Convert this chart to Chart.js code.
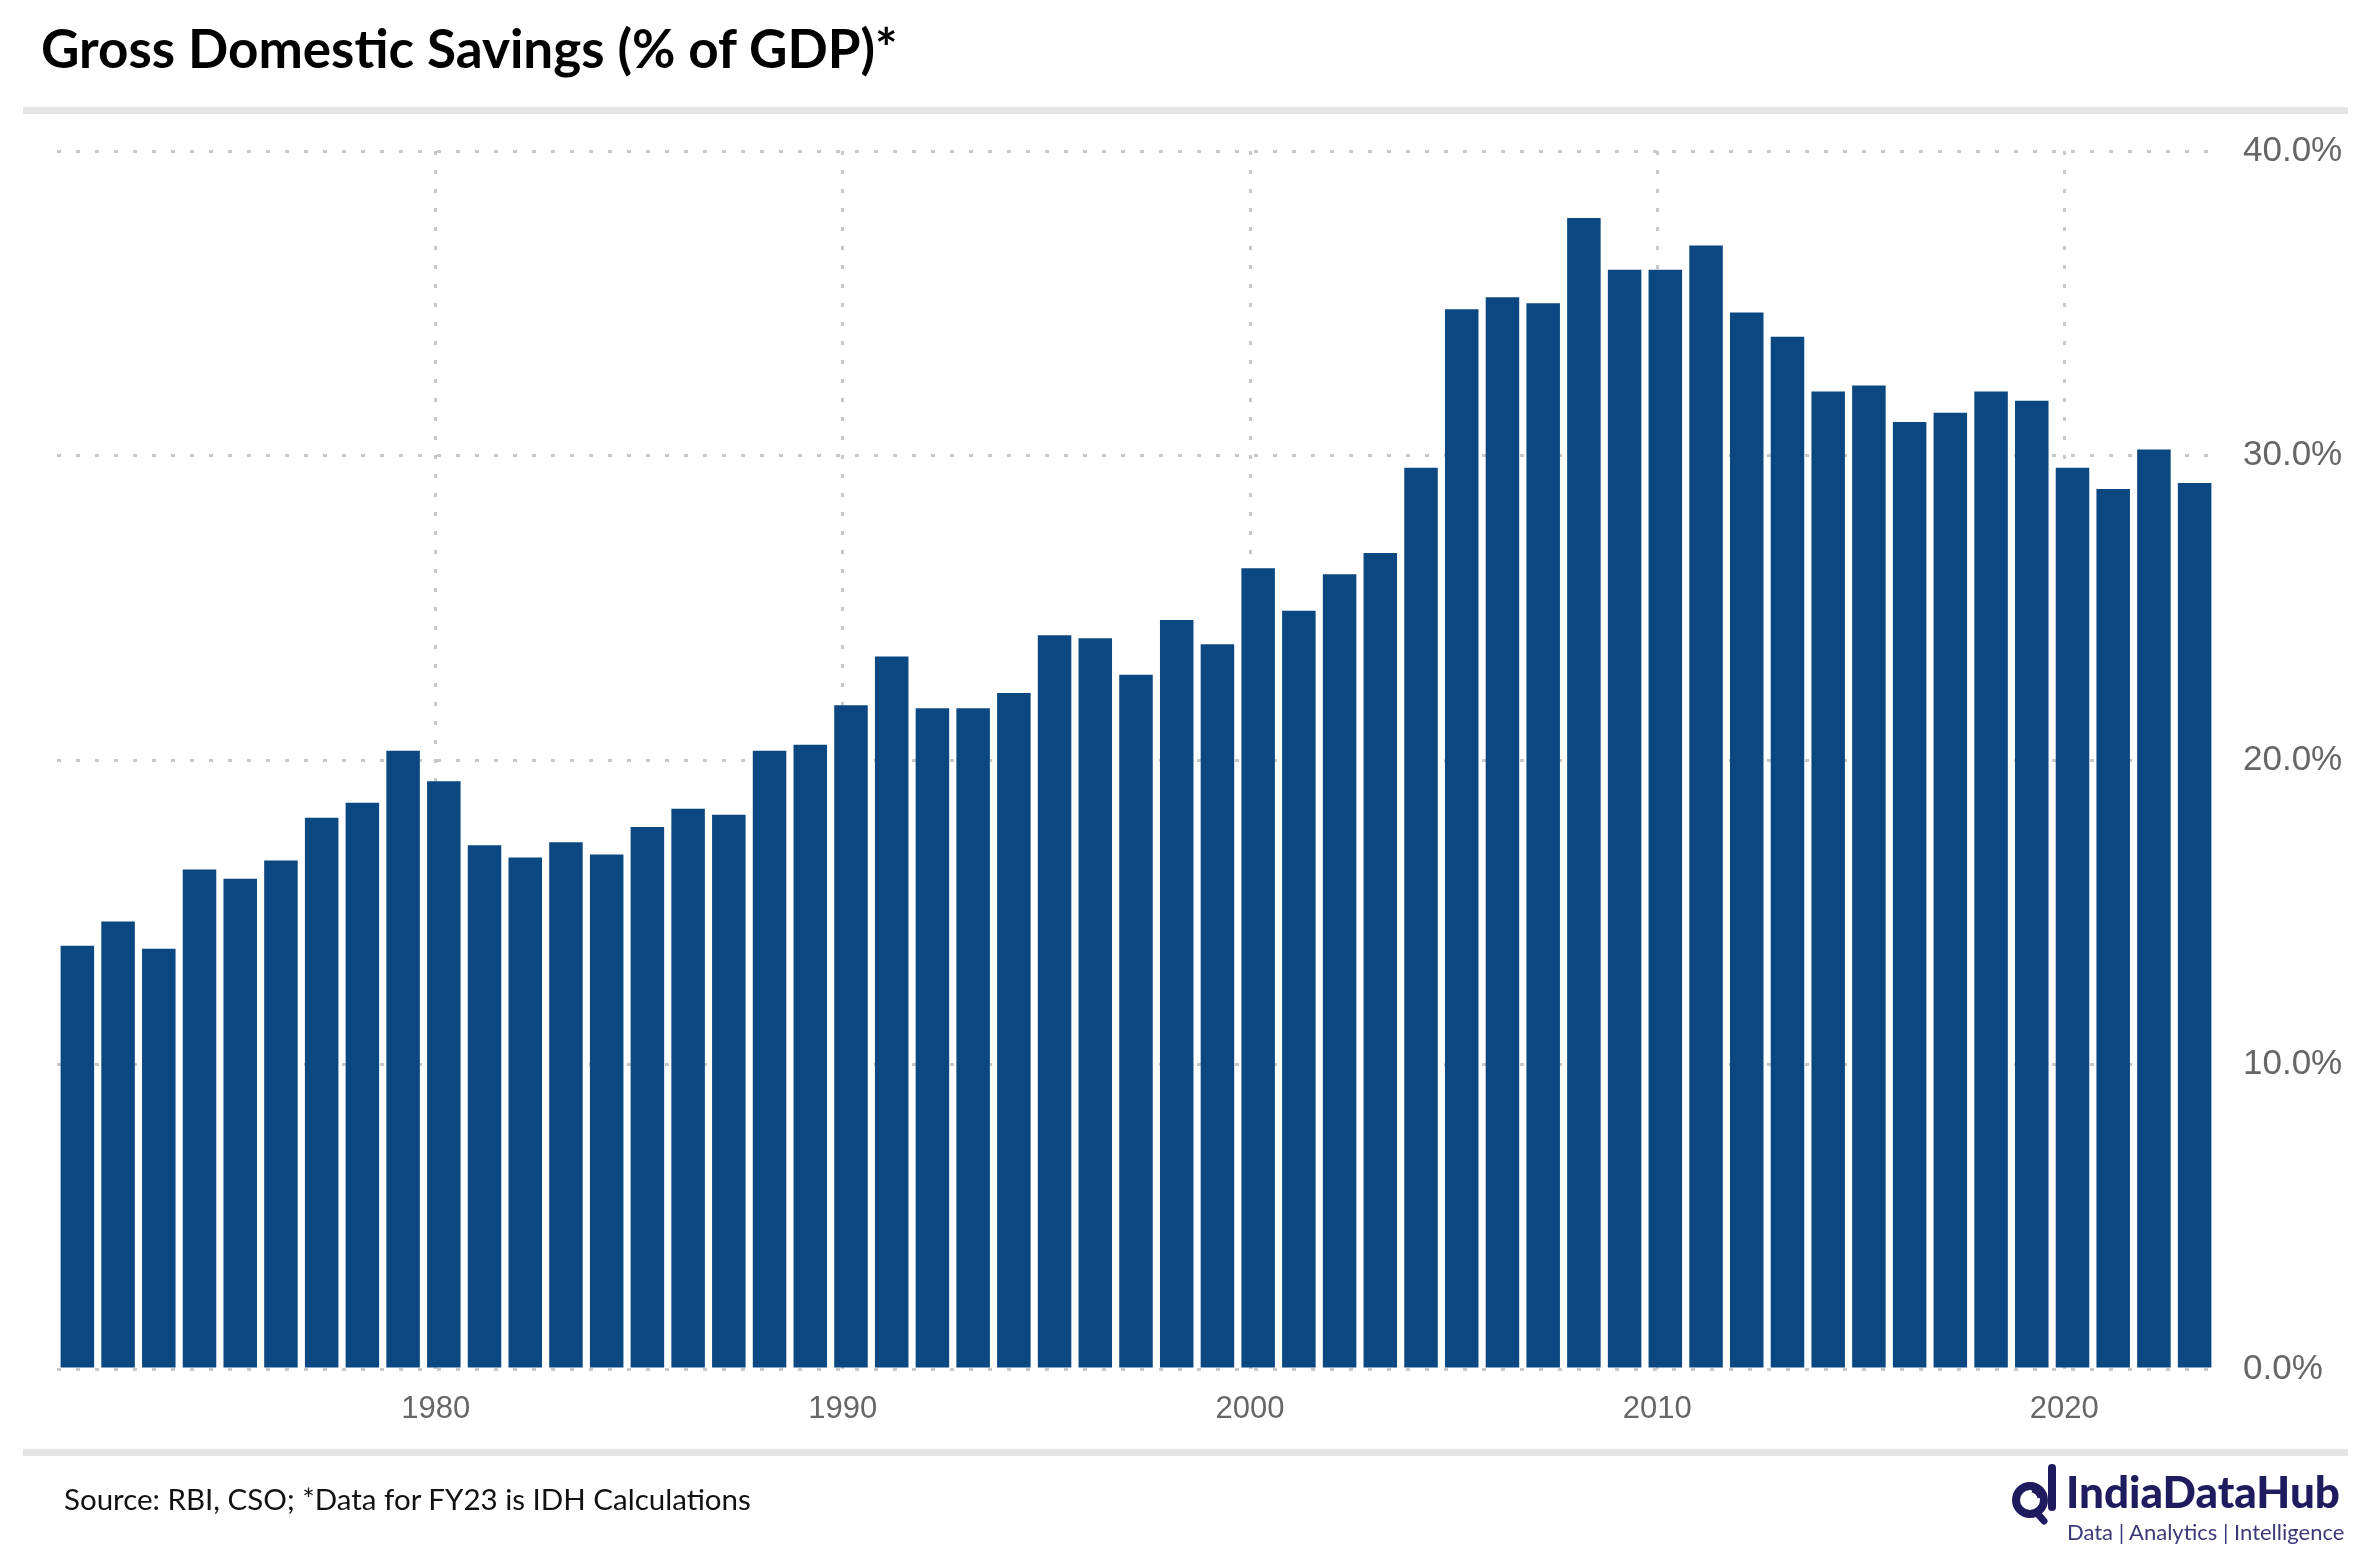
<!DOCTYPE html>
<html>
<head>
<meta charset="utf-8">
<script src="https://cdn.jsdelivr.net/npm/chart.js@4"></script>
<style>
  html, body { margin:0; padding:0; background:#ffffff; }
  body { width:2370px; height:1564px; position:relative; overflow:hidden; }
  #c { position:absolute; left:0; top:0; width:2370px; height:1564px; }
  .title { position:absolute; left:41px; top:13px; font-family:"Lato", sans-serif; font-weight:700; font-size:53px; line-height:70px; color:#000; white-space:nowrap; }
  .rule { position:absolute; left:23px; width:2325px; height:7px; background:#e5e5e5; }
  .source { position:absolute; left:64px; top:1479px; font-family:"Lato", sans-serif; font-size:29.5px; line-height:40px; color:#111; white-space:nowrap; }
  .logo-name { position:absolute; left:2066px; top:1468px; font-family:"Lato", sans-serif; font-weight:900; font-size:44px; line-height:46px; color:#1e1b5e; white-space:nowrap; }
  .logo-sub { position:absolute; left:2067px; top:1518px; font-family:"Lato", sans-serif; font-size:22px; line-height:28px; color:#3b3a78; white-space:nowrap; }
  .logo-icon { position:absolute; left:2006px; top:1460px; }
</style>
</head>
<body>
<canvas id="c" width="2370" height="1564"></canvas>
<div class="title">Gross Domestic Savings (% of GDP)*</div>
<div class="rule" style="top:107px"></div>
<div class="rule" style="top:1449px"></div>
<div class="source">Source: RBI, CSO; *Data for FY23 is IDH Calculations</div>
<svg class="logo-icon" width="60" height="70" viewBox="0 0 60 70">
  <circle cx="24" cy="40" r="14" fill="none" stroke="#1e1b5e" stroke-width="8"/>
  <line x1="46" y1="8" x2="46" y2="47" stroke="#1e1b5e" stroke-width="8" stroke-linecap="round"/>
  <line x1="31" y1="53" x2="38" y2="61" stroke="#1e1b5e" stroke-width="7" stroke-linecap="round"/>
  <path d="M26 31 A9 9 0 0 1 33 38" fill="none" stroke="#1e1b5e" stroke-width="3"/>
</svg>
<div class="logo-name">IndiaDataHub</div>
<div class="logo-sub">Data | Analytics | Intelligence</div>
<script>
const years = [1971,1972,1973,1974,1975,1976,1977,1978,1979,1980,
  1981,1982,1983,1984,1985,1986,1987,1988,1989,1990,
  1991,1992,1993,1994,1995,1996,1997,1998,1999,2000,
  2001,2002,2003,2004,2005,2006,2007,2008,2009,2010,
  2011,2012,2013,2014,2015,2016,2017,2018,2019,2020,
  2021,2022,2023];
const savingsPct = [13.9,14.7,13.8,16.4,16.1,16.7,18.1,18.6,20.3,19.3,
  17.2,16.8,17.3,16.9,17.8,18.4,18.2,20.3,20.5,21.8,
  23.4,21.7,21.7,22.2,24.1,24.0,22.8,24.6,23.8,26.3,
  24.9,26.1,26.8,29.6,34.8,35.2,35.0,37.8,36.1,36.1,
  36.9,34.7,33.9,32.1,32.3,31.1,31.4,32.1,31.8,29.6,
  28.9,30.2,29.1];
const yTicks = [0,10,20,30,40];
const xTickYears = [1980,1990,2000,2010,2020];
// fiscal years end in March: each bar sits ~0.2 year after its calendar-year gridline
const fiscalShift = 0.2;
const xMin = years[0] - 0.5 + fiscalShift;
const xMax = xMin + years.length;

const gridColor = '#c8c8c8';
new Chart(document.getElementById('c'), {
  type: 'bar',
  data: {
    labels: years.map(String),
    datasets: [{
      data: savingsPct,
      xAxisID: 'x',
      backgroundColor: '#0B4881',
      borderWidth: 0,
      barPercentage: 0.823,
      categoryPercentage: 1.0
    }]
  },
  options: {
    responsive: false,
    devicePixelRatio: 1,
    animation: false,
    layout: { padding: { top: 151, left: 57, right: 0, bottom: 115 } },
    plugins: { legend: { display: false }, tooltip: { enabled: false } },
    scales: {
      x: {
        display: false,
        offset: true
      },
      yearAxis: {
        type: 'linear',
        axis: 'x',
        position: 'bottom',
        offset: false,
        min: xMin,
        max: xMax,
        afterBuildTicks: (s) => { s.ticks = xTickYears.map(v => ({ value: v })); },
        grid: { offset: false, drawTicks: false, lineWidth: 3, color: gridColor },
        border: { display: false, dash: [4, 15] },
        ticks: {
          maxRotation: 0,
          padding: 22,
          color: '#666666',
          font: { family: '"Liberation Sans", Arial, sans-serif', size: 31 },
          callback: (v) => String(v)
        },
        afterFit: (s) => { s.height = 80; }
      },
      y: {
        position: 'right',
        min: 0,
        max: 40,
        afterBuildTicks: (s) => { s.ticks = yTicks.map(v => ({ value: v })); },
        grid: { drawTicks: false, lineWidth: 3, color: gridColor },
        border: { display: false, dash: [4, 15] },
        ticks: {
          padding: 28,
          color: '#666666',
          font: { family: '"Liberation Sans", Arial, sans-serif', size: 35 },
          callback: (v) => Number(v).toFixed(1) + '%'
        },
        afterFit: (s) => { s.width = 155; }
      }
    }
  }
});
</script>
</body>
</html>
